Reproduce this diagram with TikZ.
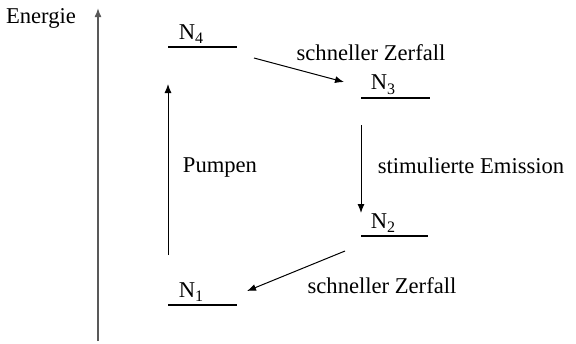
\documentclass[tikz,border=0pt]{standalone}
\usepackage{fontspec}
\setmainfont{Liberation Serif}
\usetikzlibrary{arrows.meta}
\tikzset{
  level/.style={line width=0.6pt},
  trans/.style={line width=0.5pt,-{Latex[length=4.5pt,width=3.5pt]}},
  lbl/.style={inner sep=0pt,font=\fontsize{11.3}{13}\selectfont}
}
\newcommand{\lev}[1]{N\raisebox{-0.45ex}{\fontsize{8}{9}\selectfont #1}}
\begin{document}
\begin{tikzpicture}[x=0.5pt,y=-0.5pt]
\useasboundingbox (0,0) rectangle (576,343);
% energy axis
\coordinate (e0) at (98,341);
\coordinate (e1) at (98,8);
\draw[gray!70!black,line width=0.8pt,-{Latex[length=4.5pt,width=3.5pt]}] (e0) -- (e1);
\node[lbl] (energie) at (41,18) {Energie};

% levels
\coordinate (a4) at (168,47);  \coordinate (b4) at (237,47);
\coordinate (a3) at (361,98);  \coordinate (b3) at (430,98);
\coordinate (a2) at (361,236); \coordinate (b2) at (428,236);
\coordinate (a1) at (168,305); \coordinate (b1) at (237,305);
\draw[level] (a4) -- (b4);
\draw[level] (a3) -- (b3);
\draw[level] (a2) -- (b2);
\draw[level] (a1) -- (b1);
\node[lbl] (n4) at (191,34) {\lev{4}};
\node[lbl] (n3) at (383,85) {\lev{3}};
\node[lbl] (n2) at (383,223) {\lev{2}};
\node[lbl] (n1) at (191,292) {\lev{1}};

% transitions
\coordinate (p0) at (168,255);
\coordinate (p1) at (168,84);
\draw[trans] (p0) -- (p1);
\node[lbl] (pumpen) at (220,167) {Pumpen};

\coordinate (z0) at (254,58);
\coordinate (z1) at (344,82);
\draw[trans] (z0) -- (z1);
\node[lbl] (zerfall1) at (371,53) {schneller Zerfall};

\coordinate (s0) at (361,125);
\coordinate (s1) at (361,213);
\draw[trans] (s0) -- (s1);
\node[lbl] (emission) at (471,166) {stimulierte Emission};

\coordinate (y0) at (345,251);
\coordinate (y1) at (247,291);
\draw[trans] (y0) -- (y1);
\node[lbl] (zerfall2) at (382,286) {schneller Zerfall};
\end{tikzpicture}
\end{document}
